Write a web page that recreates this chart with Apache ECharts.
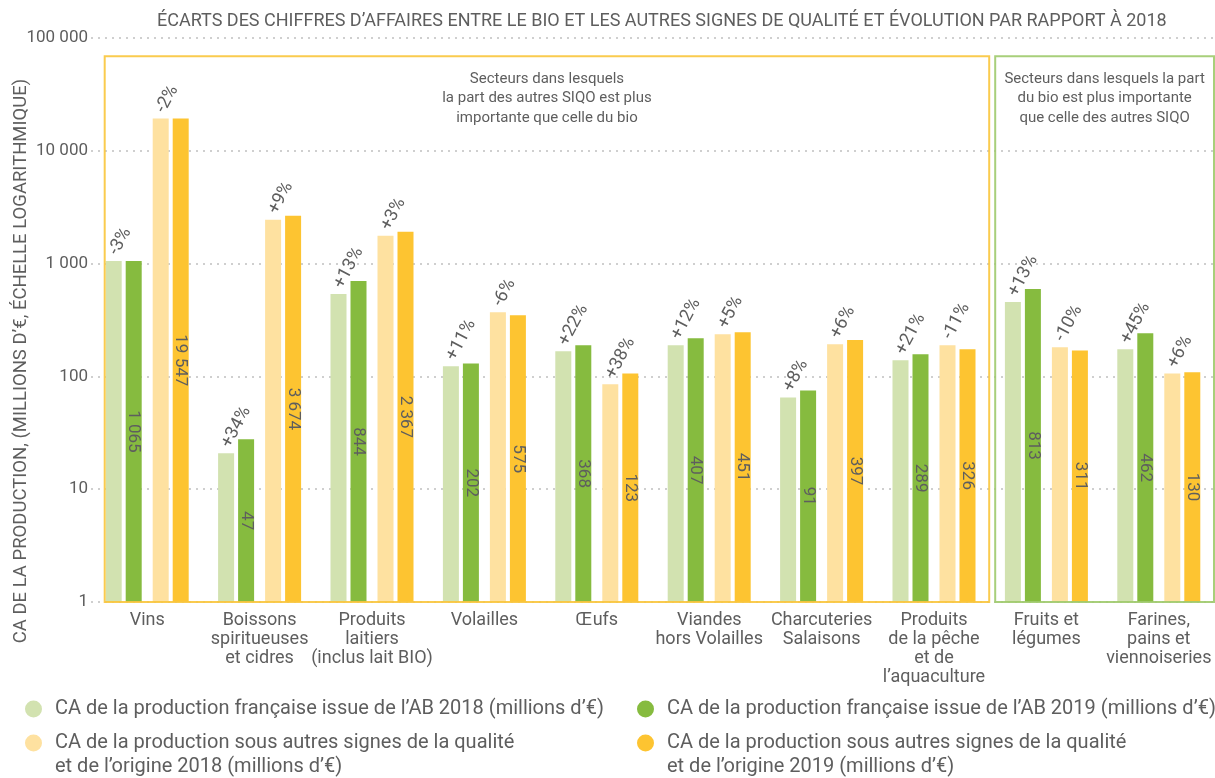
<!DOCTYPE html>
<html>
<head>
<meta charset="utf-8">
<script src="https://cdn.jsdelivr.net/npm/echarts@6/dist/echarts.min.js"></script>
<style>
  html, body { margin: 0; padding: 0; background: #fff; }
  #chart { width: 1215px; height: 778px; }
</style>
</head>
<body>
<div id="chart"></div>
<script>
// categories and values
const categories = [
    'Vins',
    'Boissons\nspiritueuses\net cidres',
    'Produits\nlaitiers\n(inclus lait BIO)',
    'Volailles',
    'Œufs',
    'Viandes\nhors Volailles',
    'Charcuteries\nSalaisons',
    'Produits\nde la pêche\net de\nl’aquaculture',
    'Fruits et\nlégumes',
    'Farines,\npains et\nviennoiseries'
];
// bar heights (as drawn)
const ab2018 = [1057, 20.8, 537, 123, 167, 189, 65, 139, 456, 174];
const ab2019 = [1057, 27.7, 701, 130, 189, 218, 75, 157, 596, 241];
const siqo2018 = [19300, 2447, 1763, 371, 85, 237, 193, 189, 181, 106];
const siqo2019 = [19300, 2657, 1915, 348, 106, 246, 210, 174, 170, 109];
// texts printed on the bars
const ab2019Labels = [1065, 47, 844, 202, 368, 407, 91, 289, 813, 462];
const siqo2019Labels = [19547, 3674, 2367, 575, 123, 451, 397, 326, 311, 130];
const abEvolution = ['-3%', '+34%', '+13%', '+11%', '+22%', '+12%', '+8%', '+21%', '+13%', '+45%'];
const siqoEvolution = ['-2%', '+9%', '+3%', '-6%', '+38%', '+5%', '+6%', '-11%', '-10%', '+6%'];
const yTicks = [1, 10, 100, 1000, 10000, 100000];
const splitAfter = 7; // last category of the first group
const boxTopValue = 69000;

const names = [
    'CA de la production française issue de l’AB 2018 (millions d’€)',
    'CA de la production française issue de l’AB 2019 (millions d’€)',
    'CA de la production sous autres signes de la qualité\net de l’origine 2018 (millions d’€)',
    'CA de la production sous autres signes de la qualité\net de l’origine 2019 (millions d’€)'
];
const colors = ['#d2e2b0', '#86bb3f', '#fee1a0', '#fdc431'];
const textColor = '#5e5e5e';
const fontFamily = 'Roboto, "Noto Sans", sans-serif';

function fmt(v) {
    return String(v).replace(/\B(?=(\d{3})+(?!\d))/g, ' ');
}

const pctLabel = (arr) => ({
    show: true,
    position: 'top',
    rotate: 62,
    align: 'left',
    verticalAlign: 'middle',
    distance: 7,
    color: textColor,
    fontSize: 18,
    fontFamily: fontFamily,
    formatter: (p) => arr[p.dataIndex]
});
const valLabel = (arr) => ({
    show: true,
    position: 'inside',
    rotate: -90,
    color: textColor,
    fontSize: 17,
    fontFamily: fontFamily,
    formatter: (p) => fmt(arr[p.dataIndex])
});

const barBase = { type: 'bar', barWidth: 16, barGap: '25%', silent: true };

const legendBase = {
    orient: 'vertical',
    icon: 'circle',
    itemWidth: 17,
    itemHeight: 17,
    padding: 0,
    selectedMode: false,
    textStyle: { color: textColor, fontSize: 20, fontFamily: fontFamily, lineHeight: 24, padding: [0, 0, 0, 8] }
};
// two-line entries: an empty first line puts the first text line level with the dot
const legend2Line = Object.assign({}, legendBase, { formatter: (name) => '\n' + name });

const chart = echarts.init(document.getElementById('chart'));
chart.setOption({
    animation: false,
    title: {
        text: 'ÉCARTS DES CHIFFRES D’AFFAIRES ENTRE LE BIO ET LES AUTRES SIGNES DE QUALITÉ ET ÉVOLUTION PAR RAPPORT À 2018',
        left: 157,
        top: 12,
        padding: 0,
        textStyle: { color: textColor, fontSize: 18, fontWeight: 'normal', fontFamily: fontFamily }
    },
    legend: [
        Object.assign({}, legendBase, { left: 25, top: 697, data: [names[0]] }),
        Object.assign({}, legendBase, { left: 637, top: 697, data: [names[1]] }),
        Object.assign({}, legend2Line, { left: 25, top: 707, data: [names[2]] }),
        Object.assign({}, legend2Line, { left: 637, top: 707, data: [names[3]] })
    ],
    grid: { left: 91, right: -5, top: 38, bottom: 176 },
    xAxis: {
        type: 'category',
        data: categories,
        axisLine: { show: false },
        axisTick: { show: false },
        axisLabel: {
            interval: 0,
            margin: 9,
            color: textColor,
            fontSize: 18,
            lineHeight: 19,
            fontFamily: fontFamily
        }
    },
    yAxis: {
        type: 'log',
        logBase: 10,
        min: yTicks[0],
        max: yTicks[yTicks.length - 1],
        axisLine: { show: false },
        axisTick: { show: false },
        axisLabel: {
            color: textColor,
            fontSize: 17,
            margin: 3,
            fontFamily: fontFamily,
            formatter: (v) => fmt(v)
        },
        splitLine: { lineStyle: { color: '#cfcfcf', width: 2, type: [2, 5] } }
    },
    series: [
        Object.assign({}, barBase, { name: names[0], data: ab2018, itemStyle: { color: colors[0] }, label: pctLabel(abEvolution) }),
        Object.assign({}, barBase, { name: names[1], data: ab2019, itemStyle: { color: colors[1] }, label: valLabel(ab2019Labels) }),
        // empty series: widens the gap between the AB pair and the SIQO pair
        Object.assign({}, barBase, { name: 'spacer', barWidth: 5.6, data: categories.map(() => '-') }),
        Object.assign({}, barBase, { name: names[2], data: siqo2018, itemStyle: { color: colors[2] }, label: pctLabel(siqoEvolution) }),
        Object.assign({}, barBase, { name: names[3], data: siqo2019, itemStyle: { color: colors[3] }, label: valLabel(siqo2019Labels) })
    ]
});

// group boxes and notes, placed through the axes
function drawBoxes() {
    const cx = categories.map((c, i) => chart.convertToPixel({ xAxisIndex: 0 }, i));
    const bw = cx[1] - cx[0];
    const yTop = chart.convertToPixel({ yAxisIndex: 0 }, boxTopValue);
    const yBot = chart.convertToPixel({ yAxisIndex: 0 }, yTicks[0]);
    const mid = (cx[splitAfter] + cx[splitAfter + 1]) / 2;
    const x0 = cx[0] - 42.5;
    const x1 = mid - 1;
    const x2 = mid + 5;
    const x3 = Math.min(cx[cx.length - 1] + bw / 2, chart.getWidth() - 1);
    const noteStyle = { fill: textColor, fontSize: 15, lineHeight: 19.5, fontFamily: fontFamily, align: 'center', verticalAlign: 'top' };
    chart.setOption({
        graphic: [
            { type: 'rect', z: 10, silent: true, shape: { x: x0, y: yTop, width: x1 - x0, height: yBot - yTop },
              style: { fill: 'none', stroke: '#fac53c', lineWidth: 2, opacity: 0.9 } },
            { type: 'rect', z: 10, silent: true, shape: { x: x2, y: yTop, width: x3 - x2, height: yBot - yTop },
              style: { fill: 'none', stroke: '#9fca6c', lineWidth: 2, opacity: 0.9 } },
            { type: 'text', z: 10, x: (x0 + x1) / 2, y: yTop + 13,
              style: Object.assign({ text: 'Secteurs dans lesquels\nla part des autres SIQO est plus\nimportante que celle du bio' }, noteStyle) },
            { type: 'text', z: 10, x: (x2 + x3) / 2, y: yTop + 13,
              style: Object.assign({ text: 'Secteurs dans lesquels la part\ndu bio est plus importante\nque celle des autres SIQO' }, noteStyle) },
            { type: 'text', z: 10, x: 21, y: 361, rotation: Math.PI / 2,
              style: { text: 'CA DE LA PRODUCTION, (MILLIONS D’€, ÉCHELLE LOGARITHMIQUE)', fill: textColor, fontSize: 18.5,
                       fontFamily: fontFamily, align: 'center', verticalAlign: 'middle' } }
        ]
    });
}
drawBoxes();
</script>
</body>
</html>
